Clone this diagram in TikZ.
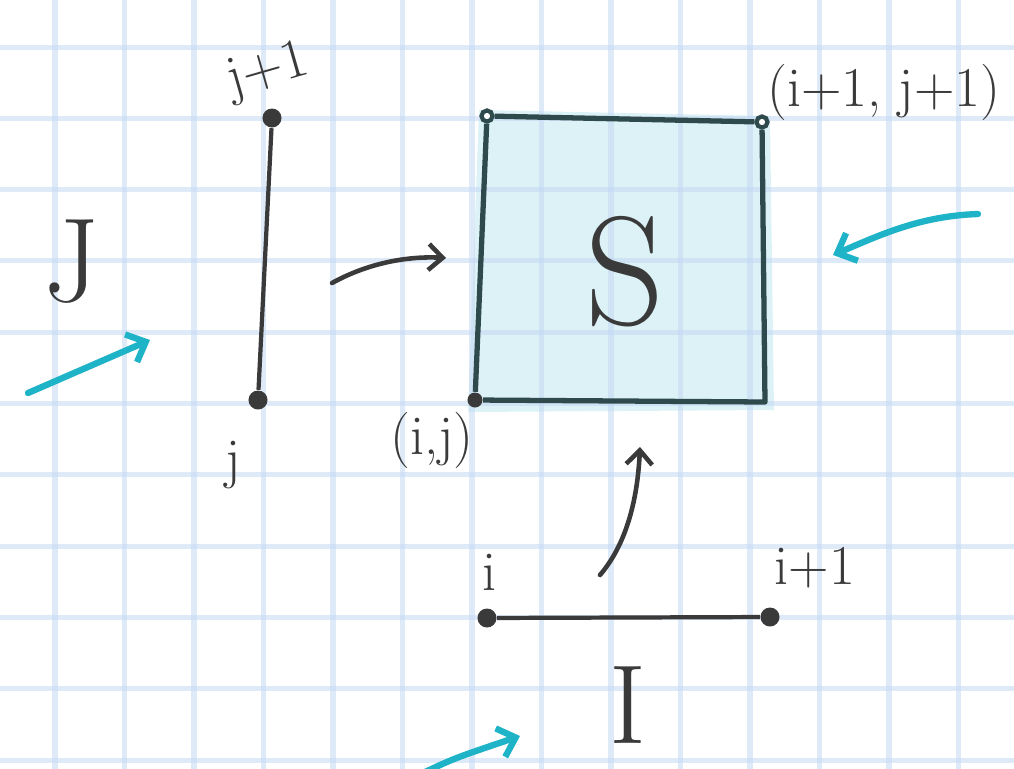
\documentclass[tikz,border=0pt]{standalone}
\usepackage{tikz}
\usetikzlibrary{arrows.meta}
\definecolor{gridblue}{HTML}{C4D8F4}
\definecolor{paleteal}{HTML}{DCF2F6}
\definecolor{ink}{HTML}{3A3A3A}
\definecolor{edgeink}{HTML}{2F4A4C}
\definecolor{penteal}{HTML}{1FB3C7}

\begin{document}
\begin{tikzpicture}[x=0.01cm, y=-0.01cm,
    gridline/.style={draw=gridblue, opacity=0.55, line width=0.05cm},
    dot/.style={circle, fill=ink, inner sep=0pt, minimum size=0.19cm},
    hollow/.style={circle, draw=edgeink, fill=white, line width=1.2pt, inner sep=0pt, minimum size=0.11cm},
    lbl/.style={text=ink, font=\fontsize{16}{16}\selectfont},
    segment/.style={draw=ink, line width=1.2pt},
    frame/.style={draw=edgeink, line width=1.5pt, line join=round},
    inkarrow/.style={draw=ink, line width=1.3pt, line cap=round, -{Straight Barb[length=0.14cm, width=0.26cm]}},
    hint/.style={draw=penteal, line width=1.8pt, line cap=round, -{Straight Barb[length=0.16cm, width=0.3cm]}}]
    \useasboundingbox (0,0) rectangle (1014,769);
    \coordinate (c-tl) at (487,116);
    \coordinate (c-tr) at (762,122);
    \coordinate (c-br) at (765,402);
    \coordinate (c-bl) at (475,400);
    \fill[paleteal] (479,110) -- (770,116) -- (774,410) -- (468,412) -- cycle;
    \foreach \k in {0,...,13}
        \draw[gridline] ({55+69.5*\k},0) -- ({55+69.5*\k},769);
    \foreach \k in {0,...,10}
        \draw[gridline] (0,{47+71.3*\k}) -- (1014,{47+71.3*\k});
    \node[hollow] (s-tl) at (c-tl) {};
    \node[hollow] (s-tr) at (c-tr) {};
    \node[dot, minimum size=0.15cm] (s-bl) at (c-bl) {};
    \draw[frame] (s-tl) -- (s-tr) -- (c-br) -- (s-bl) -- (s-tl);
    \node[text=ink, font=\fontsize{44}{44}\selectfont] (s) at (625,272) {S};
    \node[lbl] (tr-lbl) at (884,92) {(i+1, j+1)};
    \node[lbl] (bl-lbl) at (432,440) {(i,j)};
    \node[dot] (j-top) at (272,118) {};
    \node[dot] (j-bot) at (258,400) {};
    \draw[segment] (j-top) -- (j-bot);
    \node[lbl, rotate=16] (jtop-lbl) at (268,72) {j+1};
    \node[lbl] (jbot-lbl) at (233,465) {j};
    \node[text=ink, font=\fontsize{34}{34}\selectfont] (J) at (72,262) {J};
    \node[dot] (i-lft) at (487,618) {};
    \node[dot] (i-rgt) at (770,617) {};
    \draw[segment] (i-lft) -- (i-rgt);
    \node[lbl] (ilft-lbl) at (490,572) {i};
    \node[lbl] (irgt-lbl) at (815,568) {i+1};
    \node[text=ink, font=\fontsize{32}{32}\selectfont] (I) at (628,705) {I};
    \coordinate (jarr-start) at (332,283);
    \coordinate (jarr-end) at (446,258);
    \draw[inkarrow] (jarr-start) .. controls (370,262) and (410,256) .. (jarr-end);
    \coordinate (iarr-start) at (600,575);
    \coordinate (iarr-end) at (640,447);
    \draw[inkarrow] (iarr-start) .. controls (630,540) and (638,490) .. (iarr-end);
    \coordinate (hint-a0) at (28,393);
    \coordinate (hint-a1) at (150,340);
    \draw[hint] (hint-a0) -- (hint-a1);
    \coordinate (hint-b0) at (978,214);
    \coordinate (hint-b1) at (833,255);
    \draw[hint] (hint-b0) .. controls (920,216) and (880,235) .. (hint-b1);
    \coordinate (hint-c0) at (425,772);
    \coordinate (hint-c1) at (520,736);
    \draw[hint] (hint-c0) .. controls (455,758) .. (hint-c1);
\end{tikzpicture}
\end{document}
